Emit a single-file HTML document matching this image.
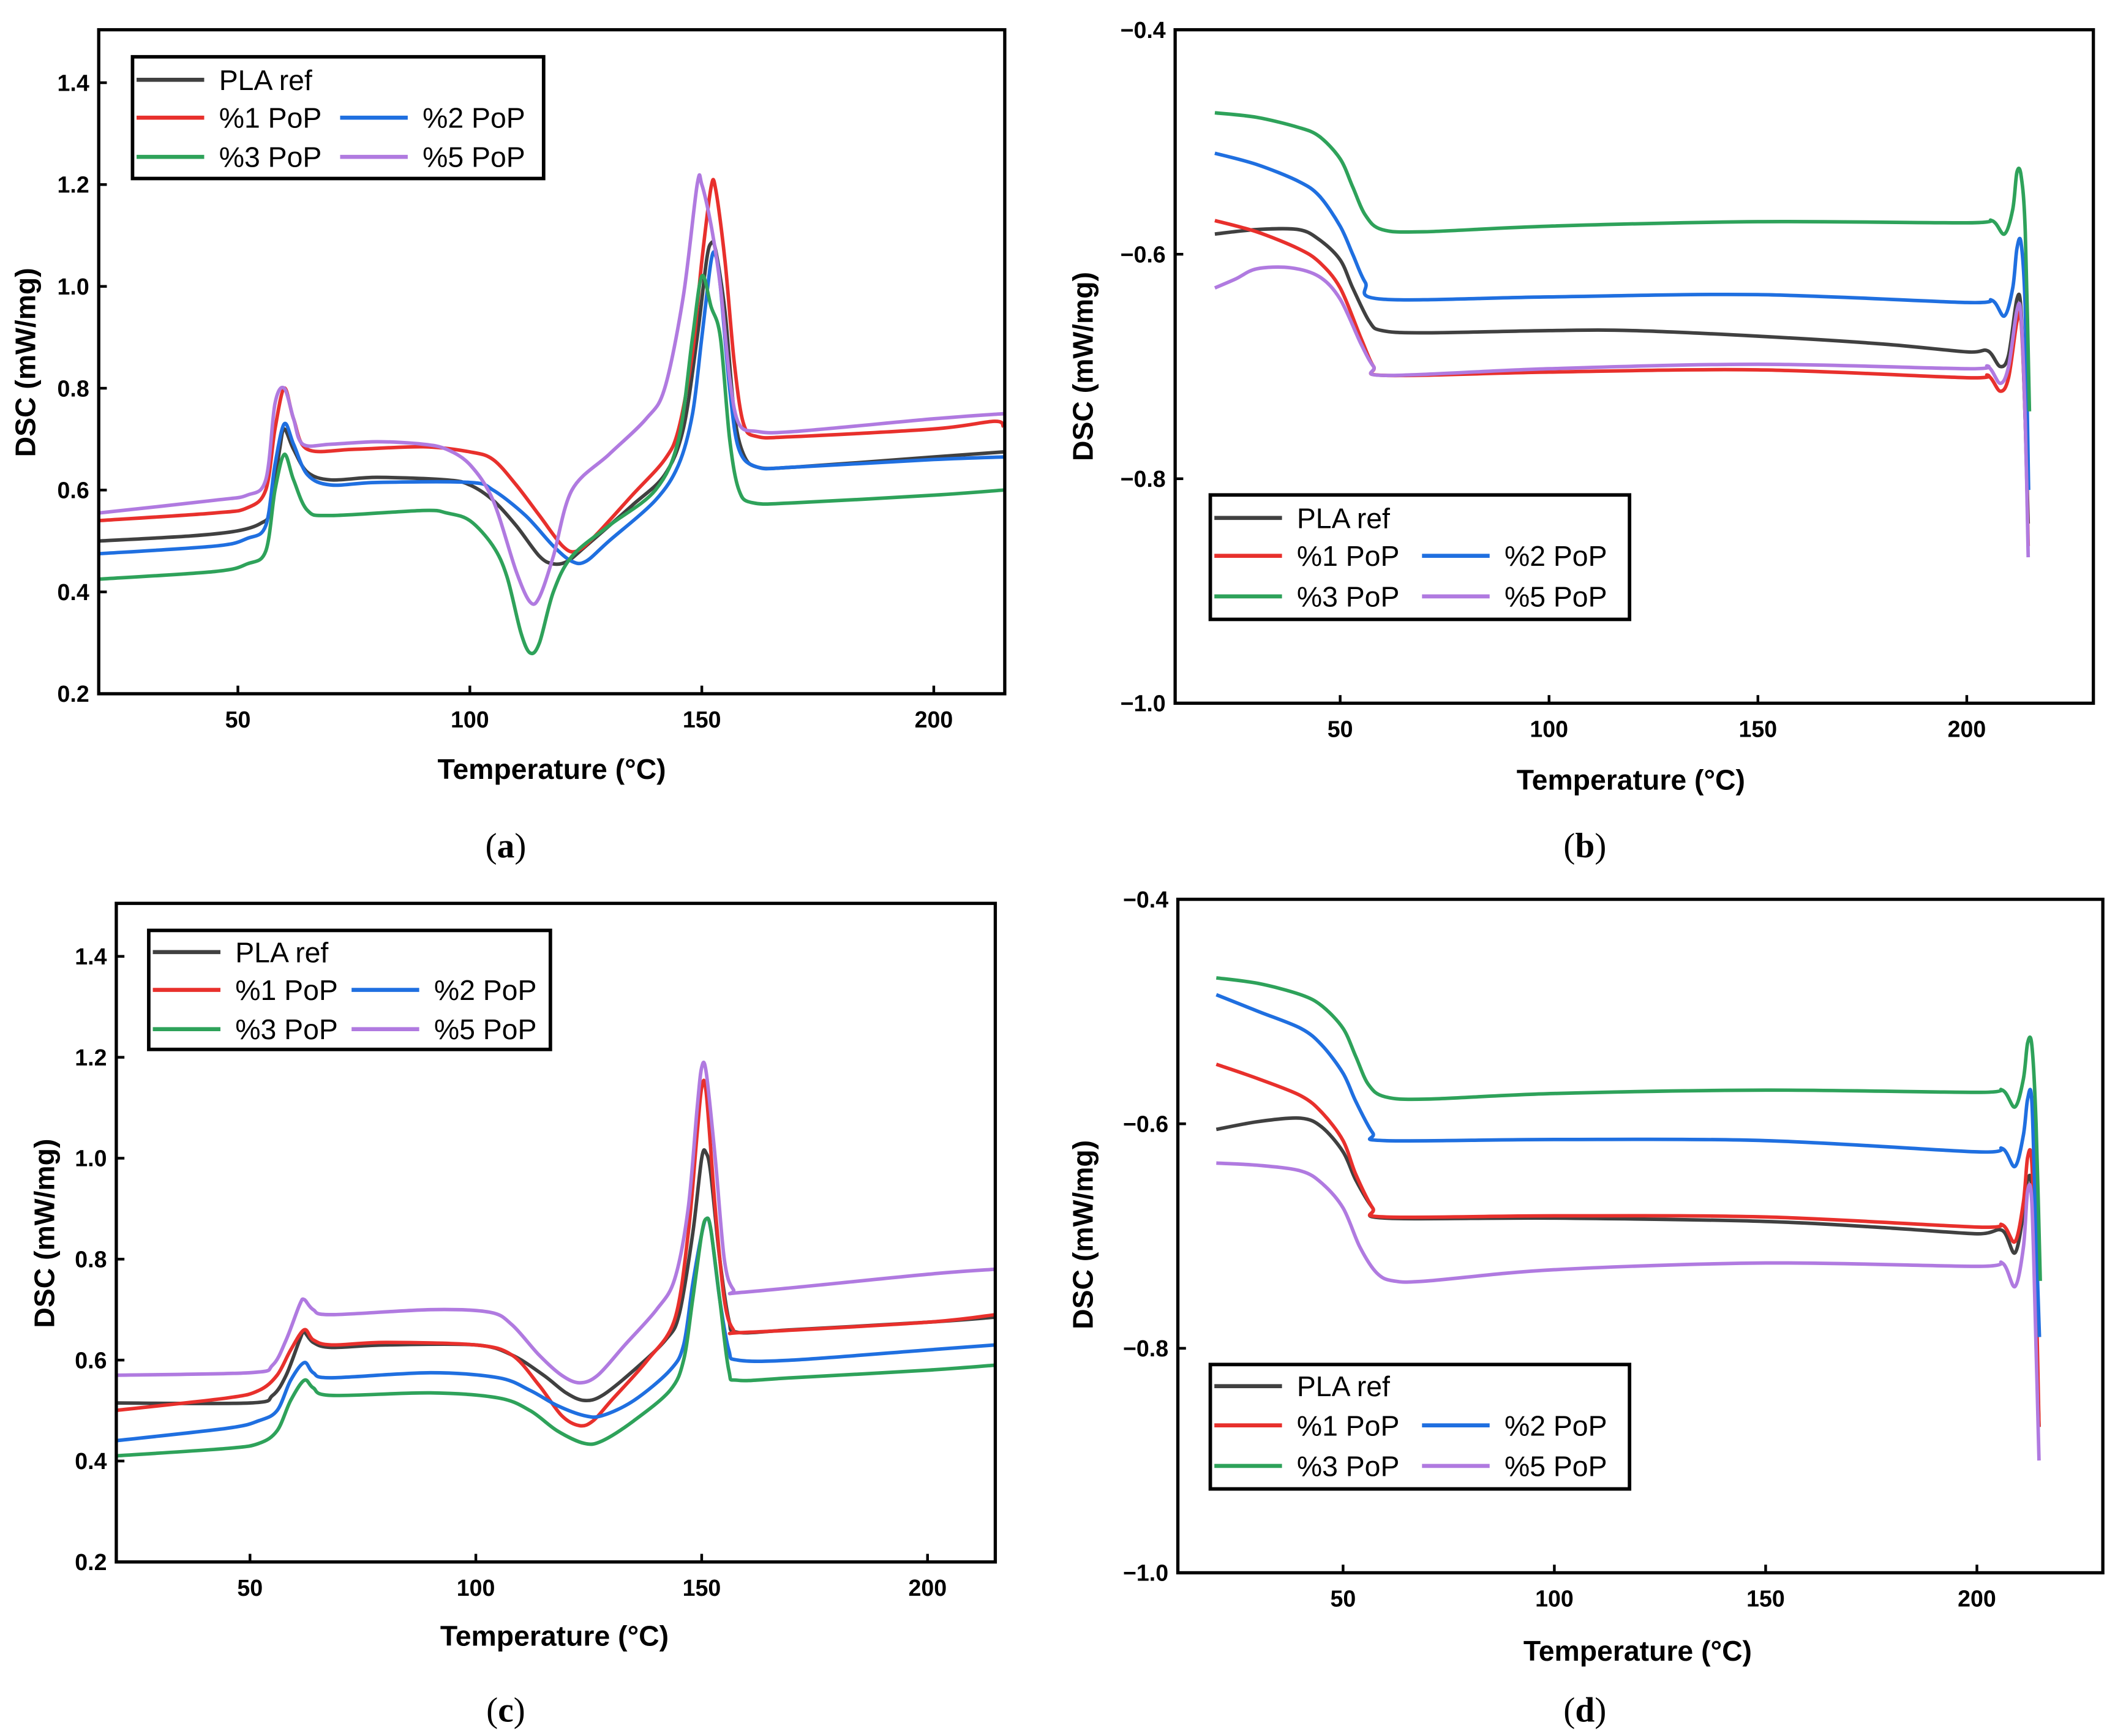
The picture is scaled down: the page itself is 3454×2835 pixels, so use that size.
<!DOCTYPE html>
<html><head><meta charset="utf-8"><style>
html,body{margin:0;padding:0;background:#fff}
svg{display:block}
text{font-family:"Liberation Sans",Arial,sans-serif}
</style></head><body>
<svg id="fig" width="3454" height="2835" viewBox="0 0 1564 1283.7" preserveAspectRatio="none" xmlns="http://www.w3.org/2000/svg"></svg>
<script>
// ---- data (temperature °C, DSC mW/mg) ----
const seriesNames = ["PLA ref","%1 PoP","%2 PoP","%3 PoP","%5 PoP"];
const xTicksAC = [50,100,150,200];
const yTicksAC = [0.2,0.4,0.6,0.8,1.0,1.2,1.4];
const xTicksBD = [50,100,150,200];
const yTicksBD = [-1.0,-0.8,-0.6,-0.4];
const yTickLabelsBD = ["\u22121.0","\u22120.8","\u22120.6","\u22120.4"];

const aPLA = [[20,0.50],[40,0.51],[50,0.52],[55,0.535],[57,0.56],[59,0.68],[60,0.72],[62,0.68],[65,0.635],[70,0.62],[80,0.625],[95,0.62],[100,0.61],[105,0.58],[110,0.53],[115,0.47],[118,0.455],[121,0.46],[125,0.49],[135,0.57],[142,0.63],[146,0.72],[149,0.9],[151,1.05],[152,1.085],[153,1.07],[155,0.95],[157,0.75],[159,0.67],[162,0.645],[170,0.645],[200,0.665],[215,0.675]];
const aP1 = [[20,0.54],[45,0.555],[52,0.565],[56,0.6],[58,0.72],[60,0.80],[62,0.74],[65,0.68],[75,0.68],[90,0.685],[100,0.675],[105,0.66],[110,0.61],[115,0.55],[120,0.49],[123,0.48],[127,0.51],[135,0.59],[142,0.66],[145,0.72],[148,0.87],[150,1.05],[152,1.195],[153,1.19],[155,1.05],[157,0.85],[159,0.73],[162,0.705],[170,0.705],[200,0.72],[213,0.735],[215,0.725]];
const aP2 = [[20,0.475],[45,0.49],[52,0.505],[56,0.53],[58,0.65],[60,0.73],[62,0.69],[65,0.63],[70,0.61],[80,0.615],[100,0.615],[105,0.6],[112,0.55],[118,0.49],[122,0.46],[125,0.46],[130,0.5],[140,0.58],[145,0.65],[148,0.75],[150,0.9],[152,1.05],[153,1.06],[154,1.0],[156,0.8],[158,0.68],[162,0.645],[170,0.645],[200,0.66],[215,0.665]];
const aP3 = [[20,0.425],[45,0.44],[52,0.455],[56,0.48],[58,0.6],[60,0.67],[62,0.62],[65,0.56],[70,0.55],[90,0.56],[95,0.555],[100,0.54],[105,0.49],[108,0.43],[111,0.32],[113,0.28],[115,0.3],[118,0.4],[122,0.47],[130,0.53],[140,0.6],[145,0.7],[148,0.9],[150,1.02],[152,0.96],[154,0.9],[156,0.7],[158,0.6],[161,0.575],[170,0.575],[200,0.59],[215,0.6]];
const aP5 = [[20,0.555],[45,0.58],[52,0.59],[56,0.62],[58,0.77],[60,0.80],[62,0.74],[64,0.69],[70,0.69],[80,0.695],[90,0.69],[95,0.68],[100,0.65],[105,0.58],[110,0.44],[113,0.38],[115,0.39],[118,0.47],[122,0.6],[130,0.67],[138,0.74],[142,0.8],[146,0.98],[149,1.2],[150,1.2],[152,1.12],[154,1.0],[156,0.82],[158,0.73],[162,0.715],[170,0.715],[200,0.74],[215,0.75]];

const cPLA = [[20,0.515],[50,0.515],[55,0.53],[58,0.57],[61,0.64],[62,0.655],[64,0.635],[68,0.625],[80,0.63],[100,0.63],[108,0.61],[115,0.57],[120,0.535],[124,0.52],[128,0.53],[135,0.58],[142,0.64],[145,0.69],[148,0.85],[150,1.0],[151,1.01],[152,0.97],[154,0.8],[156,0.68],[158,0.655],[170,0.66],[200,0.675],[215,0.685]];
const cP1 = [[20,0.50],[45,0.525],[52,0.54],[56,0.57],[59,0.62],[62,0.66],[64,0.64],[68,0.63],[80,0.635],[100,0.63],[108,0.61],[114,0.55],[119,0.49],[123,0.47],[126,0.48],[130,0.52],[138,0.6],[144,0.68],[147,0.85],[149,1.05],[150,1.14],[151,1.13],[153,0.9],[155,0.72],[157,0.66],[160,0.655],[200,0.675],[215,0.69]];
const cP2 = [[20,0.44],[45,0.465],[52,0.48],[56,0.5],[59,0.56],[62,0.595],[64,0.575],[68,0.565],[90,0.575],[105,0.565],[112,0.54],[118,0.51],[124,0.49],[128,0.49],[135,0.52],[143,0.58],[146,0.63],[148,0.75],[150,0.85],[151,0.88],[152,0.86],[154,0.72],[156,0.62],[158,0.6],[170,0.6],[200,0.62],[215,0.63]];
const cP3 = [[20,0.41],[45,0.425],[52,0.435],[56,0.46],[59,0.52],[62,0.56],[64,0.545],[68,0.53],[90,0.535],[105,0.525],[112,0.5],[118,0.46],[124,0.435],[128,0.44],[135,0.48],[143,0.54],[146,0.6],[148,0.72],[150,0.85],[151,0.88],[152,0.86],[154,0.72],[156,0.58],[158,0.56],[170,0.565],[200,0.58],[215,0.59]];
const cP5 = [[20,0.57],[50,0.575],[55,0.59],[58,0.64],[61,0.71],[62,0.72],[64,0.7],[68,0.69],[90,0.7],[103,0.695],[108,0.67],[114,0.61],[119,0.57],[123,0.555],[127,0.57],[133,0.63],[140,0.7],[144,0.76],[147,0.9],[149,1.1],[150,1.18],[151,1.17],[153,1.0],[155,0.8],[157,0.74],[160,0.735],[200,0.77],[215,0.78]];

const bPLA = [[20,-0.582],[30,-0.578],[40,-0.578],[45,-0.587],[50,-0.605],[53,-0.63],[57,-0.66],[60,-0.668],[70,-0.67],[100,-0.668],[120,-0.668],[150,-0.673],[180,-0.68],[200,-0.687],[205,-0.686],[208,-0.7],[210,-0.69],[212,-0.64],[213,-0.65],[214,-0.75],[214.7,-0.84]];
const bP1 = [[20,-0.57],[30,-0.58],[40,-0.595],[45,-0.607],[50,-0.63],[55,-0.675],[58,-0.7],[61,-0.708],[100,-0.705],[150,-0.703],[200,-0.71],[205,-0.708],[208,-0.722],[210,-0.71],[212,-0.66],[213,-0.66],[214,-0.75],[214.7,-0.86]];
const bP2 = [[20,-0.51],[30,-0.52],[40,-0.535],[45,-0.548],[50,-0.575],[53,-0.6],[56,-0.625],[60,-0.64],[100,-0.638],[150,-0.636],[200,-0.643],[206,-0.641],[209,-0.655],[211,-0.63],[212,-0.595],[213,-0.59],[214,-0.65],[214.8,-0.81]];
const bP3 = [[20,-0.474],[30,-0.478],[40,-0.487],[45,-0.495],[50,-0.515],[53,-0.54],[56,-0.565],[60,-0.578],[70,-0.58],[100,-0.575],[150,-0.571],[200,-0.572],[206,-0.57],[209,-0.582],[211,-0.56],[212,-0.527],[213,-0.53],[214,-0.58],[215,-0.74]];
const bP5 = [[20,-0.63],[25,-0.622],[30,-0.613],[38,-0.612],[45,-0.62],[50,-0.64],[55,-0.68],[58,-0.7],[61,-0.708],[100,-0.702],[150,-0.698],[200,-0.702],[205,-0.7],[208,-0.715],[210,-0.7],[212,-0.65],[213,-0.655],[214,-0.75],[214.7,-0.87]];

const dPLA = [[20,-0.605],[30,-0.598],[40,-0.595],[45,-0.603],[50,-0.625],[53,-0.65],[57,-0.675],[60,-0.684],[100,-0.684],[150,-0.687],[180,-0.693],[200,-0.698],[206,-0.695],[209,-0.715],[211,-0.68],[212,-0.65],[213,-0.66],[214,-0.78],[214.7,-0.87]];
const dP1 = [[20,-0.547],[30,-0.56],[40,-0.575],[45,-0.59],[50,-0.615],[53,-0.645],[57,-0.675],[60,-0.683],[100,-0.682],[150,-0.683],[200,-0.692],[206,-0.69],[209,-0.705],[211,-0.67],[212,-0.63],[213,-0.635],[214,-0.75],[214.7,-0.87]];
const dP2 = [[20,-0.485],[30,-0.5],[40,-0.515],[45,-0.53],[50,-0.555],[53,-0.58],[57,-0.608],[60,-0.615],[100,-0.614],[150,-0.615],[200,-0.625],[206,-0.622],[209,-0.638],[211,-0.61],[212,-0.578],[213,-0.58],[214,-0.7],[214.8,-0.79]];
const dP3 = [[20,-0.47],[30,-0.475],[40,-0.485],[45,-0.495],[50,-0.515],[53,-0.54],[56,-0.565],[60,-0.576],[70,-0.578],[100,-0.573],[150,-0.57],[200,-0.572],[206,-0.57],[209,-0.585],[211,-0.56],[212,-0.528],[213,-0.53],[214,-0.6],[215,-0.74]];
const dP5 = [[20,-0.635],[30,-0.637],[40,-0.642],[45,-0.653],[50,-0.675],[54,-0.71],[58,-0.733],[62,-0.74],[70,-0.74],[100,-0.73],[150,-0.724],[200,-0.727],[206,-0.724],[209,-0.745],[211,-0.71],[212,-0.66],[213,-0.67],[214,-0.8],[214.7,-0.9]];

const colors = ["#404040","#e8302c","#1f6fe0","#2ea25a","#b07ae0"];
const NS = "http://www.w3.org/2000/svg";
const svg = document.getElementById("fig");

function mk(tag, attrs, parent){
  const e = document.createElementNS(NS, tag);
  for (const k in attrs) e.setAttribute(k, attrs[k]);
  (parent||svg).appendChild(e);
  return e;
}

function smoothPath(pts){
  let d = "M" + pts[0][0].toFixed(2) + "," + pts[0][1].toFixed(2);
  for (let i = 0; i < pts.length - 1; i++) {
    const p0 = pts[i-1] || pts[i], p1 = pts[i], p2 = pts[i+1], p3 = pts[i+2] || p2;
    const t = 0.16;
    const c1x = p1[0] + (p2[0]-p0[0])*t, c1y = p1[1] + (p2[1]-p0[1])*t;
    const c2x = p2[0] - (p3[0]-p1[0])*t, c2y = p2[1] - (p3[1]-p1[1])*t;
    d += " C" + c1x.toFixed(2)+","+c1y.toFixed(2)+" "+c2x.toFixed(2)+","+c2y.toFixed(2)+" "+p2[0].toFixed(2)+","+p2[1].toFixed(2);
  }
  return d;
}

function panel(cfg){
  const g = mk("g", {});
  
  
  const L=cfg.box[0], R=cfg.box[1], T=cfg.box[2], B=cfg.box[3];
  const xs = v => L + (v - cfg.xr[0]) / (cfg.xr[1] - cfg.xr[0]) * (R - L);
  const ys = v => B - (v - cfg.yr[0]) / (cfg.yr[1] - cfg.yr[0]) * (B - T);
  const cp = mk("clipPath", {id:"clip-"+cfg.id}, g);
  mk("rect", {x:L, y:T, width:R-L, height:B-T}, cp);
  cfg.series.forEach((s, i) => {
    const p = mk("path", {d: smoothPath(s.map(d => [xs(d[0]), ys(d[1])])),
      fill:"none", stroke:colors[i], "stroke-width":2.6, "stroke-linejoin":"round", "clip-path":"url(#clip-"+cfg.id+")"}, g);
    
    
  });
  const fr = mk("rect", {x:L, y:T, width:R-L, height:B-T, fill:"none", stroke:"#000", "stroke-width":2.4}, g);
  
  
  cfg.xt.forEach(v => {
    const x = xs(v);
    mk("line", {x1:x, x2:x, y1:B, y2:B-6, stroke:"#000", "stroke-width":2}, g);
    const t = mk("text", {x:x, y:B+25, "text-anchor":"middle", "font-size":17, "font-weight":"bold"}, g);
    t.textContent = v;
    
    
  });
  cfg.yt.forEach((v, i) => {
    const y = ys(v);
    mk("line", {x1:L, x2:L+6, y1:y, y2:y, stroke:"#000", "stroke-width":2}, g);
    const t = mk("text", {x:L-7, y:y+6, "text-anchor":"end", "font-size":17, "font-weight":"bold"}, g);
    t.textContent = cfg.ytl ? cfg.ytl[i] : v.toFixed(1);
    
    
  });
  const xl = mk("text", {x:cfg.xl[0], y:cfg.xl[1], "text-anchor":"middle", "font-size":21, "font-weight":"bold"}, g);
  xl.textContent = "Temperature (°C)";
  
  
  const yl = mk("text", {x:0, y:0, "text-anchor":"middle", "font-size":21, "font-weight":"bold",
    transform:"translate("+cfg.yl[0]+","+cfg.yl[1]+") rotate(-90)"}, g);
  yl.textContent = "DSC (mW/mg)";
  
  
  const lg = cfg.leg;
  const lgG = mk("g", {}, g);
  
  
  mk("rect", {x:lg[0], y:lg[1], width:lg[2], height:lg[3], fill:"#fff", stroke:"#000", "stroke-width":2.6}, lgG);
  const rows = lg[4];
  const c2 = lg[0] + lg[2]*0.505;
  const entries = [[lg[0]+3, rows[0], 0],[lg[0]+3, rows[1], 1],[c2, rows[1], 2],[lg[0]+3, rows[2], 3],[c2, rows[2], 4]];
  entries.forEach(e => {
    const eg = mk("g", {}, lgG);
    
    
    mk("line", {x1:e[0], x2:e[0]+50, y1:e[1], y2:e[1], stroke:colors[e[2]], "stroke-width":3}, eg);
    const t = mk("text", {x:e[0]+61, y:e[1]+7.5, "font-size":21}, eg);
    t.textContent = seriesNames[e[2]];
  });
  const cap = mk("text", {x:cfg.cap[0], y:cfg.cap[1], "text-anchor":"middle", "font-size":26,
    style:"font-family:'Liberation Serif',serif"}, g);
  cap.innerHTML = '(<tspan font-weight="bold">'+cfg.id+'</tspan>)';
  
  
}

panel({id:"a", box:[73,743,22,513], xr:[20,215.3], yr:[0.2,1.504], xt:xTicksAC, yt:yTicksAC,
  series:[aPLA,aP1,aP2,aP3,aP5], xl:[408,576], yl:[26,268], leg:[98,42,304,90,[59,87,116]], cap:[374,634]});
panel({id:"b", box:[869,1548,22,520], xr:[10.5,230.3], yr:[-1.0,-0.4], xt:xTicksBD, yt:yTicksBD, ytl:yTickLabelsBD,
  series:[bPLA,bP1,bP2,bP3,bP5], xl:[1206,584], yl:[808,271], leg:[895,366,310,92,[383,411,441]], cap:[1172,634]});
panel({id:"c", box:[86,736,668,1155], xr:[20.4,215], yr:[0.2,1.505], xt:xTicksAC, yt:yTicksAC,
  series:[cPLA,cP1,cP2,cP3,cP5], xl:[410,1217], yl:[40,912], leg:[110,688,297,88,[704,732,761]], cap:[374,1273]});
panel({id:"d", box:[871,1555,665,1163], xr:[10.9,229.8], yr:[-1.0,-0.4], xt:xTicksBD, yt:yTicksBD, ytl:yTickLabelsBD,
  series:[dPLA,dP1,dP2,dP3,dP5], xl:[1211,1228], yl:[808,913], leg:[895,1009,310,92,[1025,1054,1084]], cap:[1172,1273]});
</script>
</body></html>
